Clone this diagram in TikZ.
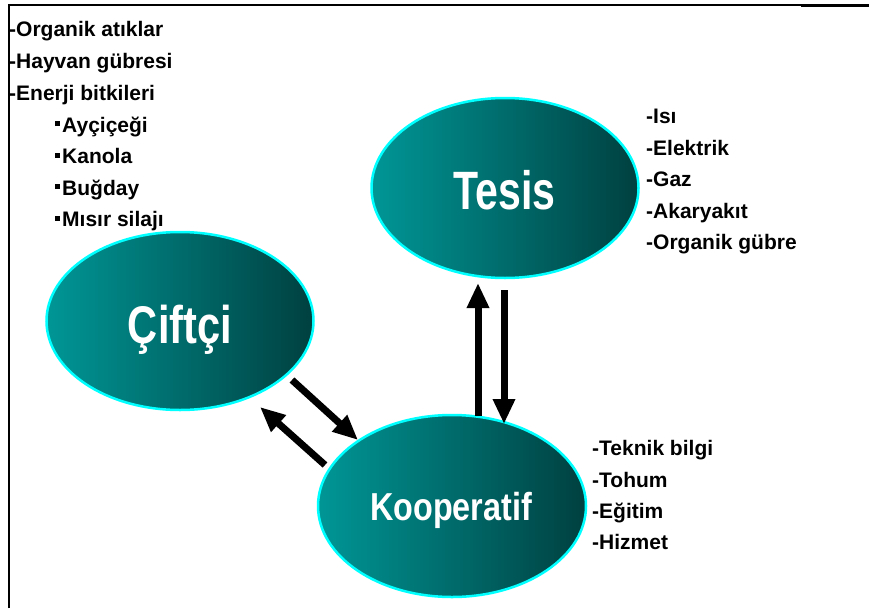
\documentclass[tikz,border=0pt]{standalone}
\usepackage{fontspec}
\setmainfont{Liberation Sans}
\usetikzlibrary{shapes.geometric,arrows.meta}
\definecolor{tealL}{RGB}{0,150,150}
\definecolor{tealR}{RGB}{0,64,64}
\definecolor{rim}{RGB}{0,255,255}
\tikzset{
  blob/.style={ellipse, draw=rim, line width=2.5pt, left color=tealL, right color=tealR,
    minimum width=267pt, minimum height=180pt, inner sep=0pt, outer sep=0pt},
  bigtxt/.style={anchor=base, inner sep=0pt, text=white, font=\bfseries},
  item/.style={anchor=base west, inner sep=0pt, font=\fontsize{21}{24}\selectfont\bfseries},
  bigarrow/.style={line width=7pt, -{Triangle[width=21pt,length=25pt]}},
  frameline/.style={line width=1.5pt}
}
\newcommand{\sqb}{\rule[6pt]{5pt}{5pt}\hspace{2pt}}
\begin{document}
\begin{tikzpicture}[x=1pt,y=-1pt]
\useasboundingbox (0,0) rectangle (869,610);
% frame
\draw[frameline] (9,608) -- (9,5) -- (801,5);
\draw[line width=3pt] (801,6) -- (869,6);
% ellipses
\node[blob] (tesis) at (505,188) {};
\node[blob, minimum height=178pt] (ciftci) at (180,321) {};
\node[blob, minimum width=268pt, minimum height=182pt] (koop) at (452,506) {};
% big labels
\node[bigtxt] (tesisT) at (504.5,209) {\fontsize{54}{60}\selectfont\scalebox{0.76}[1]{Tesis}};
\node[bigtxt] (ciftciT) at (180,343) {\fontsize{53}{60}\selectfont\scalebox{0.785}[1]{Çiftçi}};
\node[bigtxt] (koopT) at (451,520) {\fontsize{39}{44}\selectfont\scalebox{0.83}[1]{Kooperatif}};
% arrows
\coordinate (a1s) at (292,380);
\coordinate (a1e) at (358,440);
\coordinate (a2s) at (325,465);
\coordinate (a2e) at (260,407);
\coordinate (a3s) at (478,416);
\coordinate (a3e) at (478,283);
\coordinate (a4s) at (504,290);
\coordinate (a4e) at (504,424);
\draw[bigarrow] (a1s) -- (a1e);
\draw[bigarrow] (a2s) -- (a2e);
\draw[bigarrow] (a3s) -- (a3e);
\draw[bigarrow] (a4s) -- (a4e);
% left list
\node[item] (l1) at (9,37) {-Organik atıklar};
\node[item] (l2) at (9,68.5) {-Hayvan gübresi};
\node[item] (l3) at (9,100) {-Enerji bitkileri};
\node[item] (l4) at (55,132) {\sqb Ayçiçeği};
\node[item] (l5) at (55,163.5) {\sqb Kanola};
\node[item] (l6) at (55,195) {\sqb Buğday};
\node[item] (l7) at (55,226.5) {\sqb Mısır silajı};
% tesis list
\node[item] (t1) at (646,123) {-Isı};
\node[item] (t2) at (646,155) {-Elektrik};
\node[item] (t3) at (646,186) {-Gaz};
\node[item] (t4) at (646,218) {-Akaryakıt};
\node[item] (t5) at (646,249) {-Organik gübre};
% kooperatif list
\node[item] (k1) at (592,455) {-Teknik bilgi};
\node[item] (k2) at (592,487) {-Tohum};
\node[item] (k3) at (592,518) {-Eğitim};
\node[item] (k4) at (592,549) {-Hizmet};
\end{tikzpicture}
\end{document}
